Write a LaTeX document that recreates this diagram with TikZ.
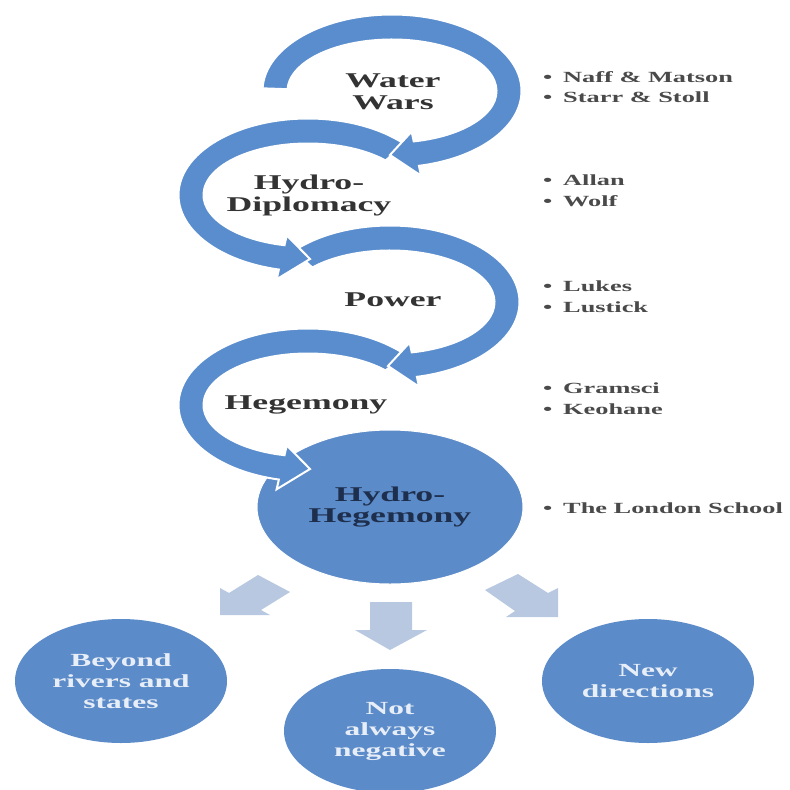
\documentclass[tikz,border=0pt]{standalone}
\usepackage{fontspec}
\setmainfont{Liberation Serif}
\newfontfamily\labfont[FakeStretch=1.7]{Liberation Serif}
\usetikzlibrary{shapes.geometric}
\definecolor{arcblue}{HTML}{5A8DCD}
\definecolor{circblue}{HTML}{5B8BC8}
\definecolor{lightarrow}{HTML}{B8C8E0}
\definecolor{labgray}{HTML}{333333}
\definecolor{navy}{HTML}{1E2F4D}
\definecolor{bulletgray}{HTML}{4A4A4A}
\definecolor{pale}{HTML}{E8EEF7}
\newcommand{\circarrow}[5]{%
  \fill[arcblue, draw=white, line width=2pt, line join=miter]
    ([shift={(#1,#2)}]#3:129.5 and 76.5)
    arc[start angle=#3, end angle=#4, x radius=129.5, y radius=76.5]
    -- ([shift={(#1,#2)}]#4:139.5 and 86.5)
    -- ([shift={(#1,#2)}]#5:117 and 64)
    -- ([shift={(#1,#2)}]#4:94.5 and 41.5)
    -- ([shift={(#1,#2)}]#4:104.5 and 51.5)
    arc[start angle=#4, end angle=#3, x radius=104.5, y radius=51.5]
    -- cycle;}
\begin{document}
\begin{tikzpicture}[x=1pt,y=1pt,
  lab/.style={font=\fontsize{21}{22}\labfont\bfseries, text=labgray, align=center, inner sep=0},
  bigcirc/.style={ellipse, fill=circblue, draw=white, line width=1pt, minimum width=266, minimum height=154, inner sep=0, align=center, font=\fontsize{21}{21}\labfont\bfseries, text=navy},
  smallc/.style={ellipse, fill=circblue, minimum width=212, minimum height=124, inner sep=0, align=center, font=\fontsize{18.5}{21}\labfont\bfseries, text=pale},
  bul/.style={anchor=mid west, inner sep=0, font=\fontsize{15.5}{16}\labfont\bfseries, text=bulletgray},
  bt/.style={anchor=mid west, inner sep=0, font=\fontsize{15.5}{16}\labfont\bfseries, text=bulletgray}]
\useasboundingbox (0,0) rectangle (790,-790);
\fill[white] (0,0) rectangle (790,-790);
% light arrows
\fill[lightarrow] (258,-575) -- (229,-593) -- (220,-588) -- (220,-615) -- (270,-615) -- (261,-610) -- (290,-592) -- cycle;
\fill[lightarrow] (518,-574) -- (548,-593) -- (558,-588) -- (558,-617) -- (506,-617) -- (515,-611) -- (485,-590) -- cycle;
\fill[lightarrow] (370,-602) -- (412,-602) -- (412,-630) -- (427,-630) -- (390,-650) -- (355,-630) -- (370,-630) -- cycle;
% bottom circles
\node[smallc] (c1) at (121,-681) {Beyond\\rivers and\\states};
\node[smallc] (c2) at (390,-731) {Not\\always\\negative};
\node[smallc] (c3) at (648,-681) {New\\directions};
% central circle
\node[bigcirc] (hh) at (390,-507) {Hydro-\\Hegemony};
% circular arrows
\circarrow{308}{-405}{42}{257}{271}
\circarrow{390}{-302}{138}{-78}{-91}
\circarrow{308}{-195}{42}{257}{271}
\circarrow{392}{-91}{178}{-78}{-91}
% labels
\node[lab] (ww) at (393,-92) {Water\\Wars};
\node[lab] (hd) at (309,-195) {Hydro-\\Diplomacy};
\node[lab] (pw) at (393,-300) {Power};
\node[lab] (hg) at (306,-405) {Hegemony};
% bullets
\node[bul] (u1) at (543,-80) {•};  \node[bt] (t1) at (563,-80) {Naff \& Matson};
\node[bul] (u2) at (543,-100) {•}; \node[bt] (t2) at (563,-100) {Starr \& Stoll};
\node[bul] (u3) at (543,-183) {•}; \node[bt] (t3) at (563,-183) {Allan};
\node[bul] (u4) at (543,-204) {•}; \node[bt] (t4) at (563,-204) {Wolf};
\node[bul] (u5) at (543,-289) {•}; \node[bt] (t5) at (563,-289) {Lukes};
\node[bul] (u6) at (543,-310) {•}; \node[bt] (t6) at (563,-310) {Lustick};
\node[bul] (u7) at (543,-391) {•}; \node[bt] (t7) at (563,-391) {Gramsci};
\node[bul] (u8) at (543,-412) {•}; \node[bt] (t8) at (563,-412) {Keohane};
\node[bul] (u9) at (543,-511) {•}; \node[bt] (t9) at (563,-511) {The London School};
\end{tikzpicture}
\end{document}
